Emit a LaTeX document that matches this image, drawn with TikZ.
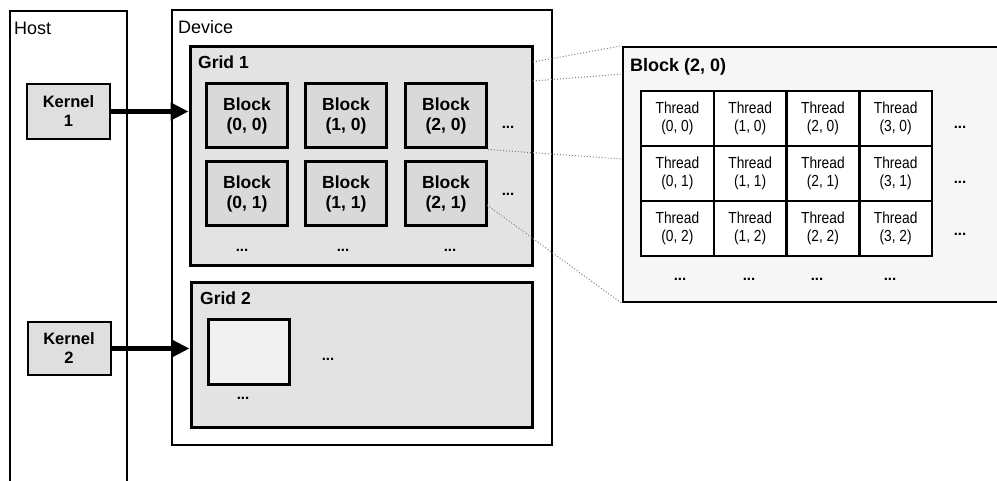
\documentclass[tikz,border=0pt]{standalone}
\usepackage{fontspec}
\setmainfont{Liberation Sans}
\newfontfamily\condfont[FakeStretch=0.86]{Liberation Sans}
\usetikzlibrary{arrows.meta}
\begin{document}
\begin{tikzpicture}[x=1pt,y=-1pt,
  outer/.style={draw=black,line width=2pt},
  gridbox/.style={draw=black,line width=3pt,fill=gray!22,inner sep=0pt},
  blockbox/.style={draw=black,line width=3pt,fill=gray!30,inner sep=0pt,minimum width=81pt,minimum height=64pt,align=center,font=\fontsize{17.5}{20}\selectfont\bfseries},
  kernelbox/.style={draw=black,line width=2pt,fill=gray!25,inner sep=0pt,minimum width=83pt,minimum height=55pt,align=center,font=\fontsize{16.5}{19}\selectfont\bfseries},
  threadbox/.style={draw=black,line width=2.5pt,fill=white,inner sep=0pt,minimum width=72.75pt,minimum height=55pt,align=center,font=\condfont\fontsize{16}{18}\selectfont},
  lbl/.style={anchor=west,inner sep=0pt,font=\fontsize{18}{20}\selectfont},
  blbl/.style={anchor=west,inner sep=0pt,font=\fontsize{17.5}{20}\selectfont\bfseries},
  dots/.style={inner sep=0pt,font=\fontsize{15}{16}\selectfont\bfseries},
  arr/.style={line width=5pt,-{Triangle[length=18pt,width=17pt]}},
  proj/.style={gray,dotted,line width=1pt}]
\useasboundingbox (0,0) rectangle (997,481);
\fill[white] (0,0) rectangle (997,481);

% Host
\draw[outer] (10,482) -- (10,11) -- (127,11) -- (127,482);
\node[lbl] (host) at (14,28) {Host};
\node[kernelbox] (k1) at (68.5,111.5) {Kernel\\1};
\node[kernelbox,minimum height=53pt] (k2) at (69,348.5) {Kernel\\2};

% Device
\node[draw=black,line width=2pt,minimum width=380pt,minimum height=435pt,inner sep=0pt] (dev) at (362,227.5) {};
\node[lbl] (devl) at (178,27) {Device};

% Grid 1
\node[gridbox,minimum width=342pt,minimum height=219pt] (g1) at (361,156.5) {};
\node[blbl] (g1l) at (198,62) {Grid 1};
\node[blockbox] (b00) at (247,116) {Block\\(0, 0)};
\node[blockbox] (b10) at (346,116) {Block\\(1, 0)};
\node[blockbox] (b20) at (446,116) {Block\\(2, 0)};
\node[blockbox] (b01) at (247,193.5) {Block\\(0, 1)};
\node[blockbox] (b11) at (346,193.5) {Block\\(1, 1)};
\node[blockbox] (b21) at (446,193.5) {Block\\(2, 1)};
\node[dots] (g1d1) at (508,127) {...};
\node[dots] (g1d2) at (508,194) {...};
\node[dots] (g1d3) at (242,250) {...};
\node[dots] (g1d4) at (343,250) {...};
\node[dots] (g1d5) at (450,250) {...};

% Grid 2
\node[gridbox,minimum width=341pt,minimum height=144pt] (g2) at (361.5,355) {};
\node[blbl] (g2l) at (200,298) {Grid 2};
\node[blockbox,fill=gray!12] (g2b) at (249,352) {};
\node[dots] (g2d1) at (328,359) {...};
\node[dots] (g2d2) at (243,398) {...};

% Arrows
\draw[arr] (k1.east) -- (k1.east -| g1.west);
\draw[arr] (k2.east) -- (k2.east -| g2.west);

% Expanded block
\node[draw=black,line width=2.5pt,fill=gray!7,minimum width=376pt,minimum height=255pt,inner sep=0pt] (eb) at (811,174.5) {};
\node[blbl,font=\fontsize{18}{20}\selectfont\bfseries] (ebl) at (630,67) {Block (2, 0)};
\foreach \c in {0,1,2,3}{
  \foreach \r in {0,1,2}{
    \node[threadbox] (t\c\r) at ({677.4+72.75*\c},{118.5+55*\r}) {Thread\\(\c, \r)};
  }
}
\node[dots] (ed1) at (960,127) {...};
\node[dots] (ed2) at (960,182) {...};
\node[dots] (ed3) at (960,234) {...};
\node[dots] (ed4) at (680,279) {...};
\node[dots] (ed5) at (749,279) {...};
\node[dots] (ed6) at (817,279) {...};
\node[dots] (ed7) at (890,279) {...};

% Projection lines
\coordinate (p1) at (533,62);
\coordinate (p2) at (533,81);
\coordinate (q2) at (623,74);
\coordinate (p4) at (487,205);
\draw[proj] (p1) -- (eb.north west);
\draw[proj] (p2) -- (q2);
\draw[proj] (b20.south east) -- ([yshift=15.5pt]eb.west);
\draw[proj] (p4) -- (eb.south west);
\end{tikzpicture}
\end{document}
